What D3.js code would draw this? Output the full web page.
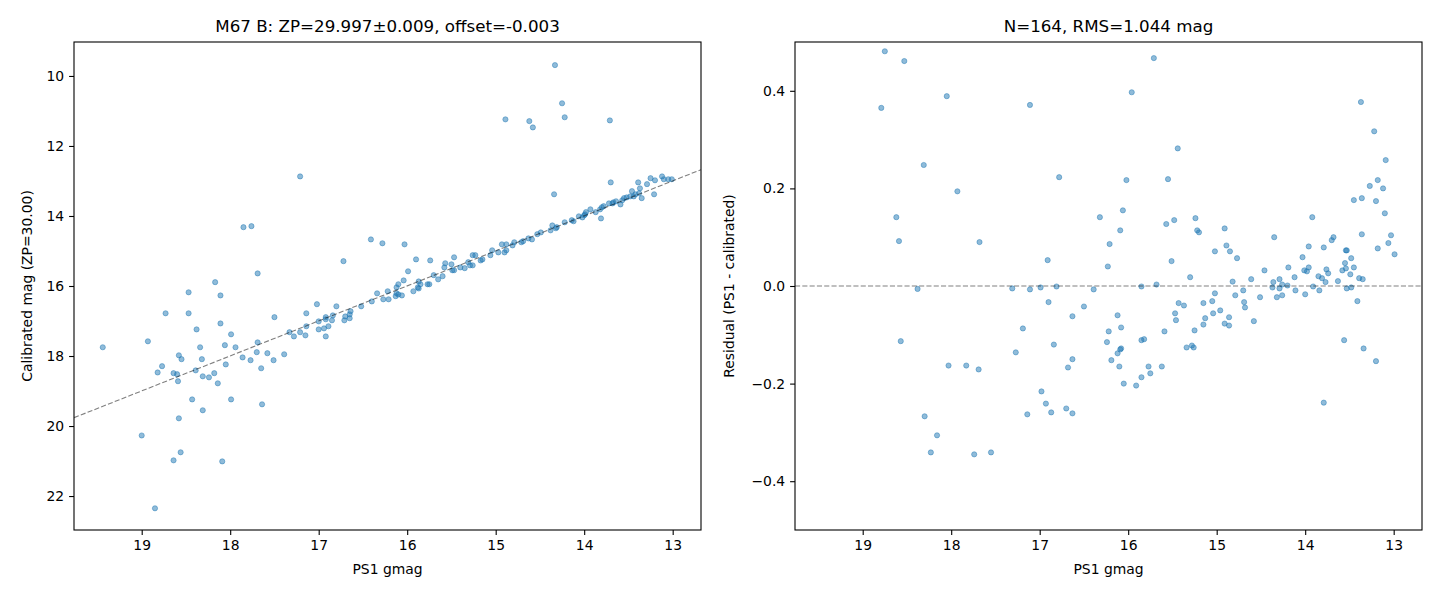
<!DOCTYPE html>
<html>
<head>
<meta charset="utf-8">
<script src="https://cdn.jsdelivr.net/npm/d3@7"></script>
<style>
  body { margin: 0; background: #fff; }
  text { font-family: "DejaVu Sans", sans-serif; }
</style>
</head>
<body>
<div id="fig"></div>
<script>
// left panel: PS1 gmag vs calibrated mag
var gmagLeft = [
  17.69,18.17,18.47,18.11,18.73,18.47,17.50,18.11,18.38,17.99,19.44,18.93,18.34,18.06,17.94,17.69,
  17.70,17.58,18.58,18.55,18.32,17.86,17.77,17.51,18.77,18.82,18.05,17.65,18.64,18.60,18.39,18.59,
  18.31,18.24,18.18,18.14,18.43,17.99,18.31,17.64,18.58,19.00,18.56,18.64,18.09,18.85,17.39,
  17.21,17.85,17.76,16.41,16.28,16.03,16.72,15.99,16.04,16.10,16.12,16.12,16.10,16.06,16.22,16.34,
  16.27,16.21,16.13,16.40,16.52,16.80,17.02,16.64,16.65,16.70,16.65,16.71,16.84,16.85,16.92,16.92,
  17.00,16.89,16.94,17.00,16.92,17.14,17.14,17.33,17.28,17.21,17.15,
  15.90,15.74,15.47,15.87,15.88,15.85,15.77,15.75,15.87,15.93,15.70,15.65,15.60,15.57,15.50,15.58,
  15.49,15.47,15.40,15.35,15.31,15.29,15.26,15.26,15.23,15.17,15.15,15.06,15.04,14.97,14.93,14.88,
  14.88,14.90,14.81,14.79,14.71,14.69,14.63,14.59,14.53,14.49,
  14.33,14.25,14.89,14.62,14.58,14.22,13.71,14.34,13.70,13.81,
  14.38,14.36,14.31,14.22,14.12,14.06,14.00,13.98,13.93,13.87,13.82,13.78,13.72,13.67,13.59,13.57,
  13.55,13.52,13.46,13.44,13.39,13.37,13.35,13.29,13.25,13.20,13.21,13.12,13.10,13.05,13.01,
  14.32,14.14,14.02,13.99,13.80,13.68,13.64,13.48,13.42,13.38
];
var calMag = [
  15.64,15.89,16.18,16.27,16.78,16.78,16.89,17.07,17.24,17.38,17.75,17.58,17.75,17.69,17.75,17.61,
  17.89,17.92,17.98,18.09,18.09,18.04,18.12,18.12,18.29,18.47,18.24,18.35,18.49,18.52,18.41,18.72,
  18.58,18.61,18.49,18.78,19.24,19.24,19.55,19.38,19.78,20.27,20.75,20.98,21.01,22.35,17.95,
  12.87,14.32,14.29,14.67,14.78,14.81,15.29,15.58,15.84,15.95,16.04,16.21,16.24,16.27,16.15,16.21,
  16.38,16.38,16.29,16.44,16.58,16.58,16.52,16.72,16.81,16.87,16.92,16.98,16.84,16.98,16.89,16.95,
  17.01,17.15,17.21,17.24,17.44,16.78,17.15,17.32,17.44,17.32,17.41,
  15.24,15.27,15.18,15.87,16.04,15.95,15.95,15.95,16.07,16.15,15.69,15.81,15.72,15.35,15.38,15.47,
  15.55,15.55,15.47,15.49,15.32,15.41,15.41,15.12,15.12,15.27,15.24,15.12,14.98,15.04,14.81,14.81,
  14.98,15.04,14.84,14.75,14.75,14.72,14.64,14.67,14.52,14.47,
  9.69,10.78,11.24,11.29,11.47,11.18,11.27,13.38,13.04,14.07,
  14.41,14.27,14.32,14.18,14.15,14.01,13.98,13.89,13.81,13.89,13.81,13.72,13.64,13.61,13.67,13.55,
  13.49,13.47,13.29,13.44,13.04,13.21,13.49,13.09,12.92,12.98,13.38,12.87,12.95,12.95,12.95,
  14.35,14.12,14.04,13.95,13.75,13.64,13.58,13.44,13.38,13.35
];

// right panel: PS1 gmag vs residual
var gmagRight = [
  18.75,18.53,18.05,18.79,18.31,17.93,18.62,18.59,17.68,18.38,17.31,18.57,17.27,18.03,17.83,17.69,
  18.30,18.16,18.23,17.74,17.55,
  15.71,15.96,17.11,15.44,16.78,16.02,15.55,16.32,16.06,15.57,15.48,15.24,15.22,15.20,16.09,16.21,
  15.02,16.91,16.23,15.51,15.30,17.11,16.99,16.81,16.39,15.85,15.68,
  15.02,16.90,16.50,16.63,16.12,15.43,15.37,15.15,15.05,15.47,15.46,15.13,15.04,14.96,17.19,16.22,
  16.08,15.59,15.25,15.15,16.84,16.24,15.85,15.82,15.34,15.28,15.26,16.08,16.09,16.12,16.63,16.68,
  16.19,16.10,15.77,15.75,15.62,15.85,16.05,15.91,16.98,16.93,17.14,16.87,16.70,16.63,
  13.37,13.22,13.09,13.18,13.27,13.12,13.45,13.36,13.20,13.92,13.10,14.91,14.35,13.36,13.03,14.89,
  14.85,14.77,13.96,13.79,13.70,13.68,13.54,13.53,13.18,13.06,12.99,14.03,13.48,13.55,13.45,14.19,
  14.46,14.01,13.96,13.98,13.76,13.74,13.58,13.54,13.49,13.85,13.81,14.12,14.29,14.61,13.39,13.35,
  14.82,
  14.36,14.37,14.29,14.26,14.20,13.77,13.63,14.79,14.70,14.51,14.32,14.26,14.11,14.00,13.91,13.84,
  13.53,13.48,13.41,14.69,14.68,14.86,14.91,14.86,14.58,13.56,13.34,13.20,13.79
];
var residual = [
  0.481,0.461,0.389,0.365,0.248,0.194,0.141,0.092,0.090,-0.006,-0.005,-0.113,-0.136,-0.163,-0.163,-0.171,
  -0.267,-0.306,-0.341,-0.345,-0.341,
  0.467,0.397,0.371,0.282,0.223,0.217,0.219,0.141,0.155,0.127,0.135,0.139,0.114,0.110,0.114,0.086,
  0.071,0.053,0.040,0.051,0.018,-0.007,-0.003,-0.001,-0.007,-0.001,0.003,
  -0.015,-0.033,-0.042,-0.062,-0.060,-0.035,-0.040,-0.035,-0.031,-0.056,-0.070,-0.066,-0.056,-0.050,-0.087,-0.093,
  -0.085,-0.093,-0.091,-0.079,-0.120,-0.115,-0.111,-0.109,-0.126,-0.122,-0.126,-0.128,-0.130,-0.138,-0.150,-0.167,
  -0.152,-0.165,-0.165,-0.179,-0.165,-0.187,-0.200,-0.204,-0.216,-0.241,-0.263,-0.259,-0.251,-0.261,
  0.377,0.317,0.258,0.217,0.205,0.200,0.176,0.180,0.174,0.141,0.149,0.118,0.100,0.106,0.104,0.083,
  0.071,0.057,0.081,0.079,0.094,0.100,0.073,0.073,0.077,0.088,0.065,0.059,0.057,0.047,0.038,0.038,
  0.032,0.032,0.038,0.030,0.034,0.026,0.032,0.036,0.024,0.020,0.016,0.018,0.014,0.014,0.016,0.014,
  0.009,
  0.008,-0.003,-0.005,0.003,0.001,0.008,0.010,-0.019,-0.009,-0.023,-0.023,-0.019,-0.009,-0.017,-0.001,-0.009,
  -0.005,-0.003,-0.031,-0.033,-0.044,-0.064,-0.077,-0.081,-0.072,-0.111,-0.128,-0.154,-0.239
];

var leftTitle = "M67 B: ZP=29.997\u00b10.009, offset=-0.003";
var rightTitle = "N=164, RMS=1.044 mag";
var xTicks = [19, 18, 17, 16, 15, 14, 13];
var yTicksLeft = [10, 12, 14, 16, 18, 20, 22];
var yTicksRight = [-0.4, -0.2, 0.0, 0.2, 0.4];
var offset = -0.003;

var width = 1440, height = 600,
    color = "#1f77b4",
    marginTop = 42, plotH = 488, plotW = 627;

var svg = d3.select("#fig").append("svg")
    .attr("width", width)
    .attr("height", height);

var panels = [
  {left: 74, gx: gmagLeft, gy: calMag, yDomain: [9.03, 22.97], yTicks: yTicksLeft,
   title: leftTitle, ylabel: "Calibrated mag (ZP=30.00)", fmt: d3.format("d")},
  {left: 795, gx: gmagRight, gy: residual, yDomain: [-0.5, 0.5], yTicks: yTicksRight,
   title: rightTitle, ylabel: "Residual (PS1 - calibrated)",
   fmt: function(d) { return d3.format(".1f")(d).replace("-", "\u2212"); }}
];

panels.forEach(function(p, i) {
  var g = svg.append("g").attr("transform", `translate(${p.left},${marginTop})`);

  var x = d3.scaleLinear().domain([19.765, 12.68]).range([0, plotW]);
  var y = d3.scaleLinear().domain(p.yDomain).range(i == 0 ? [0, plotH] : [plotH, 0]);

  var pts = p.gx.map((d, j) => ({x: d, y: p.gy[j]}));

  g.append("clipPath").attr("id", "clip" + i)
    .append("rect").attr("width", plotW).attr("height", plotH);

  var plot = g.append("g").attr("clip-path", `url(#clip${i})`);

  plot.selectAll("circle")
    .data(pts)
    .enter().append("circle")
    .attr("cx", d => x(d.x))
    .attr("cy", d => y(d.y))
    .attr("r", 2.6)
    .style("fill", color)
    .style("fill-opacity", 0.5)
    .style("stroke", color)
    .style("stroke-opacity", 0.45)
    .style("stroke-width", 1);

  // reference line: y = x + offset on the left, zero on the right
  var line = d3.line().x(d => x(d[0])).y(d => y(d[1]));
  var lineData = i == 0
    ? [[19.765, 19.765 + offset], [12.68, 12.68 + offset]]
    : [[19.765, 0], [12.68, 0]];
  plot.append("path")
    .attr("d", line(lineData))
    .style("fill", "none")
    .style("stroke", "#000")
    .style("stroke-opacity", 0.5)
    .style("stroke-width", 1.1)
    .style("stroke-dasharray", "5.1,2.2");

  // axes
  var xAxis = d3.axisBottom(x).tickValues(xTicks).tickSize(4.9).tickPadding(4.9).tickSizeOuter(0);
  var yAxis = d3.axisLeft(y).tickValues(p.yTicks).tickFormat(p.fmt).tickSize(4.9).tickPadding(4.9).tickSizeOuter(0);

  var ax = g.append("g").attr("transform", `translate(0,${plotH})`).call(xAxis);
  var ay = g.append("g").call(yAxis);
  [ax, ay].forEach(function(a) {
    a.select(".domain").remove();
    a.selectAll("line").style("stroke", "#000").style("stroke-width", 1.1);
    a.selectAll("text").style("font-size", "13.9px").style("fill", "#000")
      .style("font-family", "DejaVu Sans");
  });

  // frame
  g.append("rect")
    .attr("width", plotW).attr("height", plotH)
    .style("fill", "none").style("stroke", "#000").style("stroke-width", 1.1);

  g.append("text")
    .attr("x", plotW / 2).attr("y", -10)
    .attr("text-anchor", "middle")
    .style("font-size", "16.7px")
    .text(p.title);

  g.append("text")
    .attr("x", plotW / 2).attr("y", plotH + 44)
    .attr("text-anchor", "middle")
    .style("font-size", "13.9px")
    .text("PS1 gmag");

  g.append("text")
    .attr("transform", `translate(${i == 0 ? -42 : -61},${plotH / 2}) rotate(-90)`)
    .attr("text-anchor", "middle")
    .style("font-size", "13.9px")
    .text(p.ylabel);
});
</script>
</body>
</html>
